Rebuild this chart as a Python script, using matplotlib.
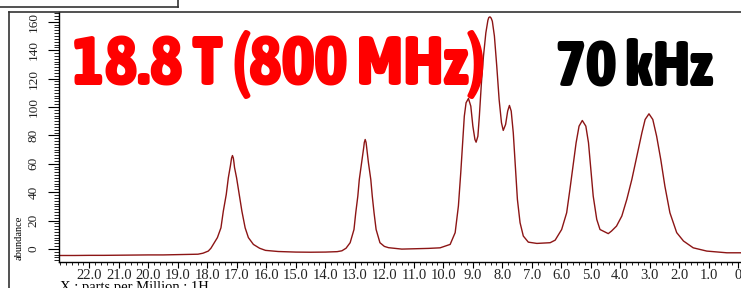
import matplotlib.pyplot as plt
from matplotlib.lines import Line2D
from matplotlib import font_manager
import numpy as np

# spectrum (ppm, abundance)
ppm = [23.05, 22.5, 22.0, 21.5, 21.0, 20.5, 20.0, 19.5, 19.0, 18.6, 18.32, 18.15, 17.97, 17.88, 17.80,
       17.66, 17.54, 17.46, 17.36, 17.29, 17.22, 17.20, 17.18, 17.15, 17.12, 17.10, 17.08, 17.01, 16.92, 16.83, 16.72,
       16.61, 16.44, 16.23, 16.03, 15.6, 15.0, 14.5, 14.0, 13.6, 13.44, 13.30, 13.16, 13.03, 12.97, 12.90,
       12.85, 12.77, 12.70, 12.68, 12.65, 12.62, 12.60, 12.54, 12.46, 12.41, 12.35, 12.28, 12.15, 12.00, 11.86, 11.41,
       11.0, 10.5, 10.11, 9.77, 9.60, 9.49, 9.41, 9.34, 9.29, 9.23, 9.15, 9.07, 9.00, 8.93, 8.89, 8.83,
       8.78, 8.71, 8.64, 8.56, 8.49, 8.46, 8.42, 8.38, 8.34, 8.27, 8.19, 8.11, 8.03, 7.97, 7.89, 7.82, 7.76, 7.70,
       7.63, 7.56, 7.49, 7.40, 7.29, 7.12, 6.83, 6.38, 6.21, 5.99, 5.82, 5.71, 5.59, 5.50, 5.40, 5.29,
       5.17, 5.08, 5.00, 4.92, 4.80, 4.69, 4.52, 4.41, 4.30, 4.13, 3.95, 3.78, 3.61, 3.44, 3.27, 3.16,
       3.03, 2.90, 2.77, 2.63, 2.49, 2.32, 2.09, 1.86, 1.53, 1.07, 0.39, -0.06, -0.2]
abundance = [-4.6, -4.6, -4.5, -4.5, -4.4, -4.3, -4.2, -4.2, -4.0, -3.9, -3.7, -3.0, -1.5, 0.5, 3.2,
             8.0, 14.9, 26.6, 38.4, 50.1, 58.5, 61.5, 64.0, 65.8, 64.0, 61.0, 57.4, 50.1, 38.4, 26.6, 14.9,
             8.0, 3.2, 0.5, -1.0, -1.8, -2.2, -2.3, -2.2, -1.9, -1.3, 0.5, 4.4, 13.7, 25.5, 37.2,
             48.9, 60.7, 71.5, 75.0, 77.1, 75.0, 71.5, 60.7, 48.9, 37.2, 25.5, 13.7, 4.4, 1.8, 0.9, -0.1,
             0.1, 0.4, 0.8, 3.2, 11.5, 30.3, 53.8, 77.1, 93.5, 103.0, 106.0, 100.6, 86.5, 77.1, 75.2, 79.4,
             93.5, 117.0, 135.8, 152.2, 161.1, 163.0, 163.5, 162.6, 160.4, 150.0, 128.8, 105.3, 88.9, 83.5, 87.7, 97.1, 101.1, 97.1,
             81.8, 58.3, 34.9, 18.5, 9.1, 4.8, 3.9, 4.4, 6.2, 13.7, 25.5, 41.9, 60.7, 74.8, 86.5, 90.5,
             86.5, 74.8, 56.0, 37.2, 20.8, 13.7, 11.9, 10.8, 12.6, 16.1, 23.2, 35.0, 49.0, 65.5, 81.8, 91.2,
             95.2, 91.2, 79.4, 63.0, 44.2, 25.5, 11.5, 5.6, 0.8, -1.5, -2.7, -2.7, -2.7]

xticks = list(range(0, 23))
xticklabels = ["0"] + ["%.1f" % t for t in xticks[1:]]
yticks = list(range(0, 161, 20))

W, H = 741, 288
fig = plt.figure(figsize=(W / 100, H / 100), dpi=100)
ax = fig.add_axes([59.3 / W, (H - 262.3) / H, (W - 59.3) / W, 250.0 / H])

ax.plot(ppm, abundance, color='#8c1515', lw=1.0)
ax.set_xlim(23.02, -0.09)
ax.set_ylim(-9.4, 166.7)

serif = 'Liberation Serif'
ax.set_xticks(xticks)
ax.set_xticklabels(xticklabels, fontsize=10.5, family=serif, color='#222222')
ax.set_xticks(np.arange(0, 23.01, 0.2), minor=True)
ax.set_yticks(yticks)
ax.set_yticklabels([str(t) for t in yticks], fontsize=9.5, family=serif, color='#222222',
                   rotation=90, va='center')
ax.set_yticks(np.arange(-8, 167, 2), minor=True)
ax.tick_params(axis='x', which='major', length=4.5, width=0.8, pad=0)
ax.tick_params(axis='x', which='minor', length=2.5, width=0.6)
ax.tick_params(axis='y', which='major', length=8, width=0.8, pad=6)
ax.tick_params(axis='y', which='minor', length=3.5, width=0.6)
for s in ['top', 'right']:
    ax.spines[s].set_visible(False)
ax.spines['left'].set_linewidth(1.0)
ax.spines['bottom'].set_linewidth(1.0)

# outer frame lines and the box at top left
def px_line(x0, y0, x1, y1, c='#333333', lw=1.2):
    fig.add_artist(Line2D([x0 / W, x1 / W], [(H - y0) / H, (H - y1) / H], color=c, lw=lw))

px_line(9, 12.3, 741, 12.3)
px_line(9, 12.3, 9, 288)
px_line(0, 6.7, 178, 6.7)
px_line(178, 0, 178, 6.7)

fig.text(19 / W, (H - 238) / H, 'abundance', rotation=90, fontsize=7.5, family=serif,
         ha='center', va='center')
fig.text(60 / W, (H - 281) / H, 'X : parts per Million : 1H', fontsize=10.5, family=serif,
         ha='left', va='top')

# big labels: look for a narrow / condensed bold face, then fit to the width seen
fp = font_manager.FontProperties(family='DejaVu Sans', weight='bold')
best = None
for f in font_manager.fontManager.ttflist:
    nm = (f.name + ' ' + str(f.style) + ' ' + f.fname).lower()
    narrow = ('narrow' in nm or 'condensed' in nm or 'compressed' in nm
              or (isinstance(f.stretch, int) and f.stretch < 500) or f.stretch in ('condensed', 'semi-condensed', 'extra-condensed'))
    w = f.weight if isinstance(f.weight, int) else 700 if 'bold' in str(f.weight) else 400
    if narrow and w >= 600 and 'italic' not in nm and 'oblique' not in nm and 'mono' not in nm:
        score = w
        if best is None or score > best[0]:
            best = (score, f.fname)
if best is not None:
    fp = font_manager.FontProperties(fname=best[1])

r = fig.canvas.get_renderer()
def fitted(x0, x1, text, color):
    t = fig.text(x0 / W, (H - 85) / H, text, color=color, fontsize=48, fontproperties=fp,
                 ha='left', va='baseline')
    t.set_fontsize(48)
    bb = t.get_window_extent(renderer=r)
    t.set_fontsize(48 * (x1 - x0) / bb.width)
    return t

fitted(72, 485, '18.8 T (800 MHz)', 'red')
fitted(556, 713, '70 kHz', 'black')

fig.savefig('out.png', dpi=100)
